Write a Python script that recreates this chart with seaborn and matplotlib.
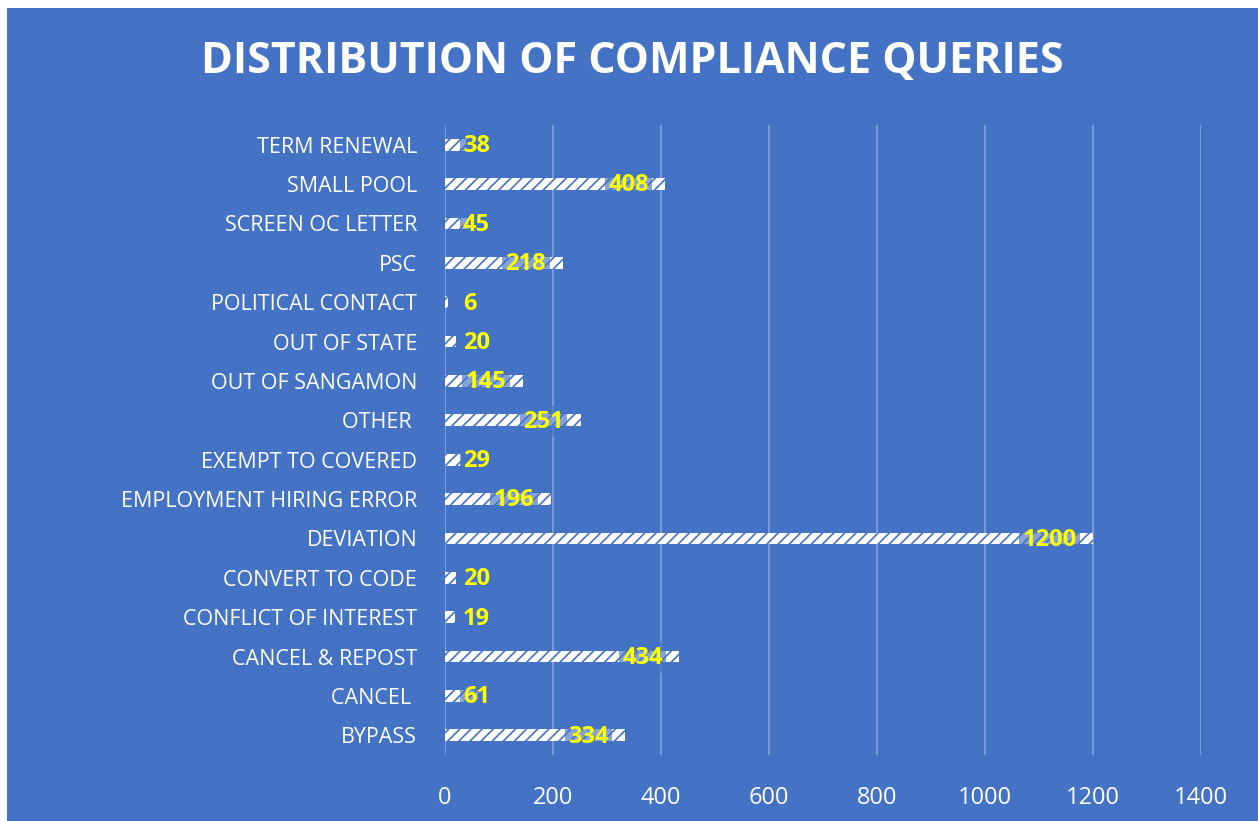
import matplotlib
matplotlib.use("Agg")
import matplotlib.pyplot as plt
import seaborn as sns
from matplotlib.patches import Rectangle

# data (top to bottom)
categories = ["TERM RENEWAL", "SMALL POOL", "SCREEN OC LETTER", "PSC", "POLITICAL CONTACT",
              "OUT OF STATE", "OUT OF SANGAMON", "OTHER ", "EXEMPT TO COVERED",
              "EMPLOYMENT HIRING ERROR", "DEVIATION", "CONVERT TO CODE",
              "CONFLICT OF INTEREST", "CANCEL & REPOST", "CANCEL ", "BYPASS"]
counts = [38, 408, 45, 218, 6, 20, 145, 251, 29, 196, 1200, 20, 19, 434, 61, 334]
x_ticks = [0, 200, 400, 600, 800, 1000, 1200, 1400]

blue = "#4472C4"
plt.rcParams["font.family"] = ["Open Sans", "DejaVu Sans"]
plt.rcParams["hatch.linewidth"] = 1.2

fig = plt.figure(figsize=(12.58, 8.21), dpi=100)
fig.patch.set_facecolor("white")
# blue chart area with a thin white margin top/left
fig.patches.append(Rectangle((7 / 1258, 0), 1, 1 - 8 / 821, transform=fig.transFigure,
                             facecolor=blue, edgecolor="none", zorder=-10))

ax = fig.add_axes([445 / 1258, 66 / 821, 756 / 1258, 630 / 821])
ax.set_facecolor("none")

sns.barplot(x=counts, y=categories, orient="h", width=0.3, color="white",
            edgecolor=blue, linewidth=0, hatch="///", ax=ax, saturation=1)

ax.set_xlim(0, 1400)
ax.set_xticks(x_ticks)
ax.grid(axis="x", color="white", alpha=0.35, linewidth=1.2)
ax.set_axisbelow(True)
for s in ax.spines.values():
    s.set_visible(False)
ax.tick_params(axis="both", length=0, colors="white")
ax.tick_params(axis="x", labelsize=17, pad=22)
ax.tick_params(axis="y", labelsize=15.5, pad=20)
ax.set_xlabel("")
ax.set_ylabel("")

# value labels, yellow, tucked against the bar end on a translucent box
box = dict(boxstyle="square,pad=0.15", facecolor=blue, alpha=0.65, edgecolor="none")
for i, v in enumerate(counts):
    if v >= 145:
        ax.annotate(str(v), (v, i), xytext=(-12, -1), textcoords="offset points",
                    ha="right", va="center", color="#FFFF00", fontsize=17,
                    fontweight="bold", bbox=box)
    else:
        ax.annotate(str(v), (0, i), xytext=(13, -1), textcoords="offset points",
                    ha="left", va="center", color="#FFFF00", fontsize=17,
                    fontweight="bold", bbox=box)

fig.text(632 / 1258, 1 - 62 / 821, "DISTRIBUTION OF COMPLIANCE QUERIES", ha="center", va="center",
         color="white", fontsize=31, fontweight="bold")

fig.savefig("out.png", dpi=100)
